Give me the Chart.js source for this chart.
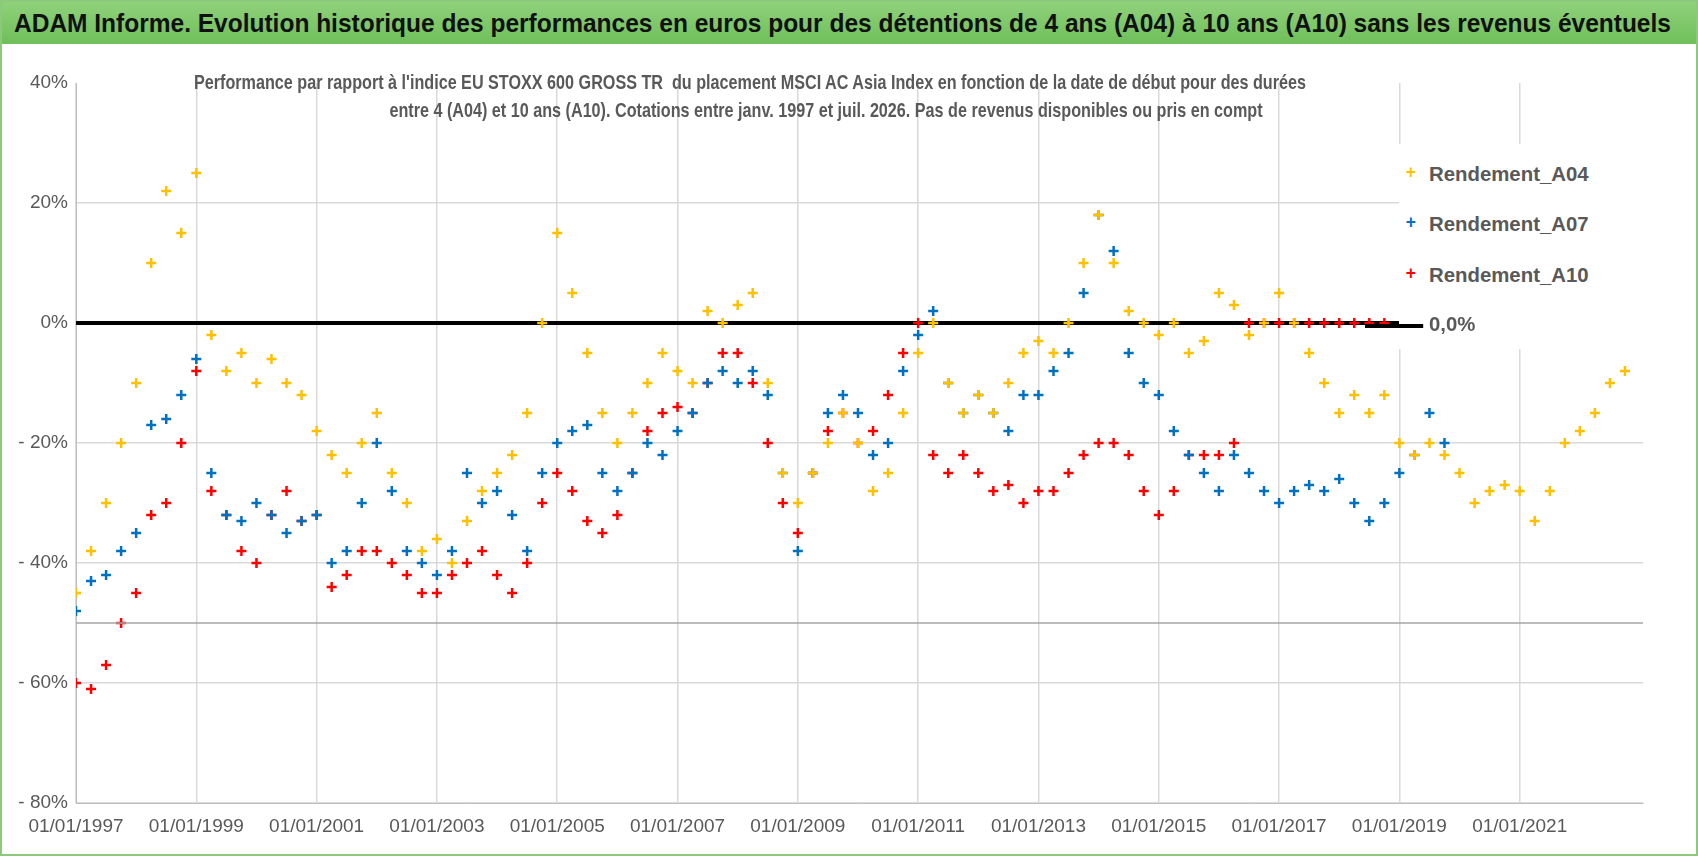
<!DOCTYPE html>
<html>
<head>
<meta charset="utf-8">
<script src="https://cdn.jsdelivr.net/npm/chart.js@4"></script>
<style>
  body { margin: 0; width: 1698px; height: 856px; overflow: hidden; background: #fff; font-family: "Liberation Sans", sans-serif; }
  #wrap { position: relative; width: 1698px; height: 856px; box-sizing: border-box; border: 2px solid #8cc97a; }
  #title { position: absolute; left: 0; top: 0; width: 100%; height: 42px; background: linear-gradient(#8fd17a, #6fbf5a); }
  #title span { position: absolute; left: 12px; top: 0; white-space: nowrap; font-weight: bold; font-size: 25px; line-height: 42px; color: #111; transform: scaleX(0.98); transform-origin: left center; }
  .sub { position: absolute; white-space: nowrap; font-weight: bold; font-size: 21px; color: #595959; transform: translateX(-50%) scaleX(0.77); }
  canvas { position: absolute; left: 0; top: 0; }
  #legend { position: absolute; left: 1397px; top: 142px; width: 270px; height: 205px; background: #fff; }
  .li { position: absolute; left: 30px; white-space: nowrap; font-weight: bold; font-size: 21px; color: #595959; transform: scaleX(0.97); transform-origin: left center; }
  .mk { position: absolute; left: -24px; top: 0; font-size: 18px; font-weight: bold; }
</style>
</head>
<body>
<div id="wrap">
  <canvas id="c" width="1698" height="856"></canvas>
  <div id="title"><span>ADAM Informe. Evolution historique des performances en euros pour des détentions de 4 ans (A04) à 10 ans (A10) sans les revenus éventuels</span></div>
  <div class="sub" style="top:68px; left:748px">Performance par rapport à l'indice EU STOXX 600 GROSS TR&nbsp; du placement MSCI AC Asia Index en fonction de la date de début pour des durées</div>
  <div class="sub" style="top:96px; left:824px">entre 4 (A04) et 10 ans (A10). Cotations entre janv. 1997 et juil. 2026. Pas de revenus disponibles ou pris en compt</div>
  <div id="legend">
    <div class="li" style="top:18px"><span class="mk" style="color:#FFC000">+</span>Rendement_A04</div>
    <div class="li" style="top:68px"><span class="mk" style="color:#0070C0">+</span>Rendement_A07</div>
    <div class="li" style="top:119px"><span class="mk" style="color:#FF0000">+</span>Rendement_A10</div>
    <div class="li" style="top:168px"><span style="position:absolute;left:-66px;top:12px;width:60px;height:4px;background:#000"></span>0,0%</div>
  </div>
</div>
<script>
'use strict';

// ── Data (quarterly readings, year as decimal) ───────────────────────────────
const startA04 = 1997.0;
const valuesA04 = [
  -45, -38, -30, -20, -10, 10, 22, 15, 25, -2, -8, -5,
  -10, -6, -10, -12, -18, -22, -25, -20, -15, -25, -30, -38,
  -36, -40, -33, -28, -25, -22, -15, 0, 15, 5, -5, -15,
  -20, -15, -10, -5, -8, -10, 2, 0, 3, 5, -10, -25,
  -30, -25, -20, -15, -20, -28, -25, -15, -5, 0, -10, -15,
  -12, -15, -10, -5, -3, -5, 0, 10, 18, 10, 2, 0,
  -2, 0, -5, -3, 5, 3, -2, 0, 5, 0, -5, -10,
  -15, -12, -15, -12, -20, -22, -20, -22, -25, -30, -28, -27,
  -28, -33, -28, -20, -18, -15, -10, -8
];
const startA07 = 1997.0;
const valuesA07 = [
  -48, -43, -42, -38, -35, -17, -16, -12, -6, -25, -32, -33,
  -30, -32, -35, -33, -32, -40, -38, -30, -20, -28, -38, -40,
  -42, -38, -25, -30, -28, -32, -38, -25, -20, -18, -17, -25,
  -28, -25, -20, -22, -18, -15, -10, -8, -10, -8, -12, -25,
  -38, -25, -15, -12, -15, -22, -20, -8, -2, 2, -10, -15,
  -12, -15, -18, -12, -12, -8, -5, 5, 18, 12, -5, -10,
  -12, -18, -22, -25, -28, -22, -25, -28, -30, -28, -27, -28,
  -26, -30, -33, -30, -25, -22, -15, -20
];
const startA10 = 1997.0;
const valuesA10 = [
  -60, -61, -57, -50, -45, -32, -30, -20, -8, -28, -32, -38,
  -40, -32, -28, -33, -32, -44, -42, -38, -38, -40, -42, -45,
  -45, -42, -40, -38, -42, -45, -40, -30, -25, -28, -33, -35,
  -32, -25, -18, -15, -14, -15, -10, -5, -5, -10, -20, -30,
  -35, -25, -18, -15, -20, -18, -12, -5, 0, -22, -25, -22,
  -25, -28, -27, -30, -28, -28, -25, -22, -20, -20, -22, -28,
  -32, -28, -22, -22, -22, -20
];
// A10 points sitting at 0 % (no data yet)
const zeroA10 = [2016.5, 2016.75, 2017.0, 2017.25, 2017.5, 2017.75, 2018.0, 2018.25, 2018.5, 2018.75, 2023.0];
const zeroLine = [[1997.0, 0], [2019.0, 0]];
const fiftyLine = [[1997.0, -50], [2023.05, -50]];
const yearTicks = [1997, 1999, 2001, 2003, 2005, 2007, 2009, 2011, 2013, 2015, 2017, 2019, 2021];

// ── Build ─────────────────────────────────────────────────────────────────────
const pts = (start, vals) => vals.map((v, i) => ({ x: start + i * 0.25, y: v }));
const xy = arr => arr.map(([x, y]) => ({ x, y }));
const cross = color => ({
  type: 'scatter', pointStyle: 'cross', pointRadius: 5, pointBorderWidth: 2.5,
  borderColor: color, backgroundColor: color, showLine: false
});

new Chart(document.getElementById('c'), {
  data: {
    datasets: [
      { type: 'line', label: 'grid50', data: xy(fiftyLine), borderColor: '#a6a6a6', borderWidth: 1.5, pointRadius: 0 },
      { ...cross('#FFC000'), label: 'Rendement_A04', data: pts(startA04, valuesA04) },
      { ...cross('#0070C0'), label: 'Rendement_A07', data: pts(startA07, valuesA07) },
      { ...cross('#FF0000'), label: 'Rendement_A10', data: pts(startA10, valuesA10).concat(zeroA10.map(x => ({ x, y: 0 }))) },
      { type: 'line', label: '0,0%', data: xy(zeroLine), borderColor: '#000', borderWidth: 4, pointRadius: 0 }
    ]
  },
  options: {
    animation: false,
    responsive: false,
    layout: { padding: { top: 81, right: 57, bottom: 0, left: 0 } },
    plugins: { legend: { display: false }, tooltip: { enabled: false } },
    scales: {
      x: {
        type: 'linear', min: 1997, max: 2023.05,
        afterFit: s => { s.height = 55; },
        afterBuildTicks: s => { s.ticks = yearTicks.map(v => ({ value: v })); },
        ticks: { color: '#595959', font: { size: 19, family: 'Liberation Sans' }, maxRotation: 0, padding: 12, callback: v => '01/01/' + v },
        grid: { color: '#d9d9d9', lineWidth: 1.5, drawTicks: false },
        border: { color: '#bfbfbf' }
      },
      y: {
        min: -80, max: 40,
        afterFit: s => { s.width = 74; },
        ticks: { stepSize: 20, color: '#595959', font: { size: 19, family: 'Liberation Sans' }, padding: 8,
          callback: v => (v < 0 ? '- ' + Math.abs(v) : v) + '%' },
        grid: { color: ctx => ctx.tick && ctx.tick.value === 40 ? 'transparent' : '#d9d9d9', lineWidth: 1.5, drawTicks: false },
        border: { color: '#bfbfbf' }
      }
    }
  }
});
</script>
</body>
</html>
